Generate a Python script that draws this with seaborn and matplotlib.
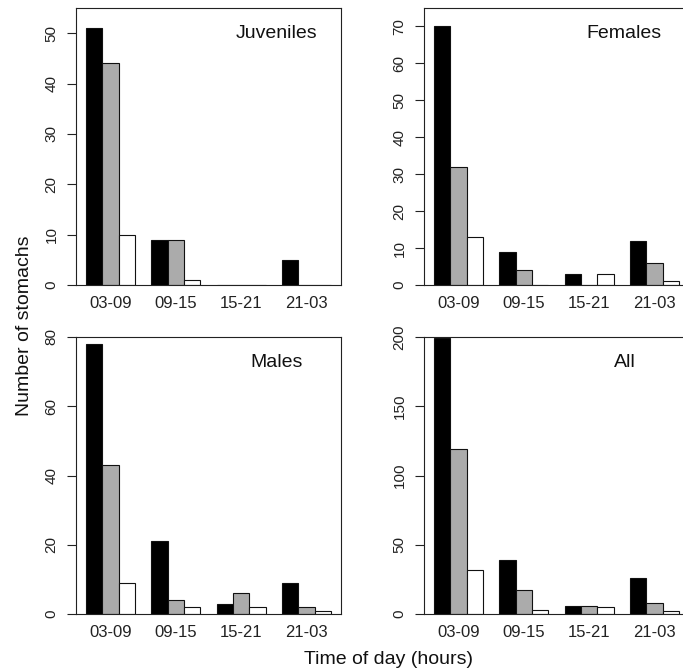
import numpy as np
import pandas as pd
import matplotlib
matplotlib.use('Agg')
import matplotlib.pyplot as plt
import seaborn as sns

# time-of-day classes on the x axis
periods = ['03-09', '09-15', '15-21', '21-03']
# three bar series per class (black / grey / white bars)
series = ['s1', 's2', 's3']
bar_colors = ['#000000', '#ABABAB', '#FFFFFF']

juveniles_s1 = [51, 9, 0, 5]
juveniles_s2 = [44, 9, 0, 0]
juveniles_s3 = [10, 1, 0, 0]

females_s1 = [70, 9, 3, 12]
females_s2 = [32, 4, 0, 6]
females_s3 = [13, 0, 3, 1]

males_s1 = [78, 21, 3, 9]
males_s2 = [43, 4, 6, 2]
males_s3 = [9, 2, 2, 1]

all_s1 = [199, 39, 6, 26]
all_s2 = [119, 17, 6, 8]
all_s3 = [32, 3, 5, 2]

panel_names = ['Juveniles', 'Females', 'Males', 'All']
panel_ymax = [55, 75, 80, 200]
panel_yticks = [np.arange(0, 51, 10), np.arange(0, 71, 10),
                np.arange(0, 81, 20), np.arange(0, 201, 50)]


def long_table(s1, s2, s3):
    """Build a long-form frame for seaborn from the three series."""
    rows = []
    for name, vals in zip(series, [s1, s2, s3]):
        for p, v in zip(periods, vals):
            rows.append({'period': p, 'series': name, 'count': v})
    return pd.DataFrame(rows)


tables = [long_table(juveniles_s1, juveniles_s2, juveniles_s3),
          long_table(females_s1, females_s2, females_s3),
          long_table(males_s1, males_s2, males_s3),
          long_table(all_s1, all_s2, all_s3)]

sns.set_style('ticks')
plt.rcParams['font.family'] = ['Liberation Sans', 'DejaVu Sans']
plt.rcParams['axes.linewidth'] = 0.8

W, H = 683, 671
fig = plt.figure(figsize=(W / 100, H / 100), dpi=100)

# panel boxes in pixels: (left, top, width, height)
boxes = [(76, 8, 265, 277), (424, 8, 265, 277),
         (76, 337, 265, 277), (424, 337, 265, 277)]

for i, (df, box) in enumerate(zip(tables, boxes)):
    l, t, w, h = box
    ax = fig.add_axes([l / W, 1 - (t + h) / H, w / W, h / H])
    sns.barplot(data=df, x='period', y='count', hue='series',
                order=periods, hue_order=series, palette=bar_colors,
                width=0.75, saturation=1, edgecolor='#111111', linewidth=0.8,
                legend=False, ax=ax)
    ax.set_xlim(-0.525, 3.525)
    ax.set_ylim(0, panel_ymax[i])
    ax.set_yticks(panel_yticks[i])
    ax.set_xlabel('')
    ax.set_ylabel('')
    for s in ax.spines.values():
        s.set_visible(True)
        s.set_color('#222222')
    ax.tick_params(axis='x', length=0, pad=8, labelsize=12, colors='#222222')
    ax.tick_params(axis='y', length=6.5, width=0.8, pad=6, labelsize=11,
                   colors='#222222')
    for lab in ax.get_yticklabels():
        lab.set_rotation(90)
        lab.set_va('center')
    ax.text(0.756, 0.893, panel_names[i], transform=ax.transAxes,
            ha='center', va='baseline', fontsize=14, color='#111111')

fig.text(25 / W, 1 - 326 / H, 'Number of stomachs', rotation=90,
         ha='center', va='center', fontsize=14, color='#111111')
fig.text(388 / W, 1 - 660 / H, 'Time of day (hours)',
         ha='center', va='center', fontsize=14, color='#111111')

fig.savefig('out.png', dpi=100)
